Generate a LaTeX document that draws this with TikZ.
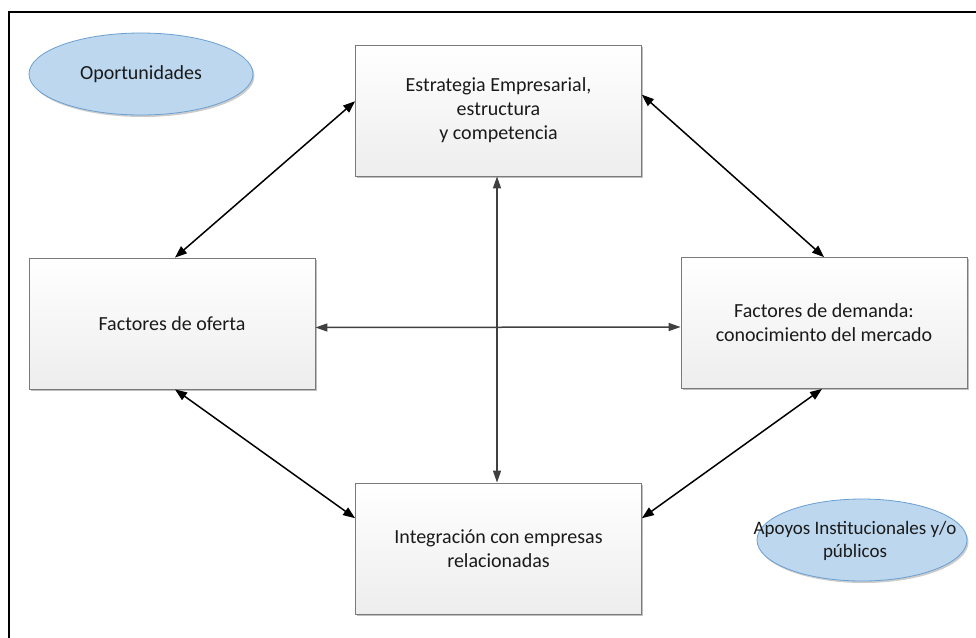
\documentclass[tikz,border=0pt]{standalone}
\usepackage{fontspec}
\setmainfont{Carlito}
\usetikzlibrary{arrows.meta,shapes.geometric,shadows,calc}
\definecolor{boxline}{HTML}{7A7A7A}
\definecolor{ellfill}{HTML}{BDD7EE}
\definecolor{ellline}{HTML}{6A9FD2}
\definecolor{hvline}{HTML}{404040}
\definecolor{txt}{HTML}{1A1A1A}
\tikzset{
  factorbox/.style={draw=boxline, line width=0.8pt, top color=white, bottom color=black!7,
    minimum width=286pt, minimum height=131pt, align=center, text=txt,
    font=\fontsize{20}{24}\selectfont,
    drop shadow={shadow xshift=1.5pt, shadow yshift=-1.5pt, opacity=0.25, fill=black}},
  ovalshape/.style={ellipse, draw=ellline, line width=0.8pt, fill=ellfill, inner sep=0pt,
    drop shadow={shadow xshift=1.5pt, shadow yshift=-2pt, opacity=0.2, fill=black}},
  ovaltext/.style={align=center, text=txt, font=\fontsize{20}{24}\selectfont, inner sep=0pt},
  diagarrow/.style={draw=black, line width=1.5pt, {Triangle[length=12pt,width=9pt]}-{Triangle[length=12pt,width=9pt]}},
  hvarrow/.style={draw=hvline, line width=1.5pt, {Triangle[length=12pt,width=8pt]}-{Triangle[length=12pt,width=8pt]}}
}
\begin{document}
\begin{tikzpicture}[x=1pt,y=-1pt]
\useasboundingbox (0,0) rectangle (976,637);
% frame
\coordinate (frameTL) at (9,12);
\coordinate (frameTR) at (976,12);
\coordinate (frameBL) at (9,637);
\draw[line width=2pt, line cap=rect] (frameTR) -- (frameTL) -- (frameBL);

% boxes
\node[factorbox] (top) at (498.5,110.5) {Estrategia Empresarial,\\estructura\\y competencia};
\node[factorbox] (left) at (172,323.5) {Factores de oferta};
\node[factorbox] (right) at (824,323) {Factores de demanda:\\conocimiento del mercado};
\node[factorbox] (bottom) at (498.5,548.5) {Integración con empresas\\relacionadas};

% ellipses
\node[ovalshape, minimum width=224pt, minimum height=82pt] (opShape) at (141,74) {};
\node[ovaltext] (op) at (opShape.center) {Oportunidades};
\node[ovalshape, minimum width=210pt, minimum height=82pt] (apShape) at (862,540) {};
\node[ovaltext, font=\fontsize{19}{23}\selectfont] (ap) at ([xshift=-7pt,yshift=-1pt]apShape.center) {Apoyos Institucionales y/o\\públicos};

% diagonal arrows
\draw[diagarrow] ($(top.north west)!0.43!(top.south west)$) -- ([xshift=3pt]left.north);
\draw[diagarrow] ($(top.north east)!0.38!(top.south east)$) -- (right.north);
\draw[diagarrow] ([xshift=3pt]left.south) -- ($(bottom.north west)!0.27!(bottom.south west)$);
\draw[diagarrow] ([xshift=-2pt]right.south) -- ($(bottom.north east)!0.27!(bottom.south east)$);

% cross arrows
\draw[hvarrow] ([yshift=-4pt]left.east) -- ([yshift=-4pt]right.west);
\draw[hvarrow] ([xshift=-1.5pt]top.south) -- ([xshift=-1.5pt]bottom.north);
\end{tikzpicture}
\end{document}
